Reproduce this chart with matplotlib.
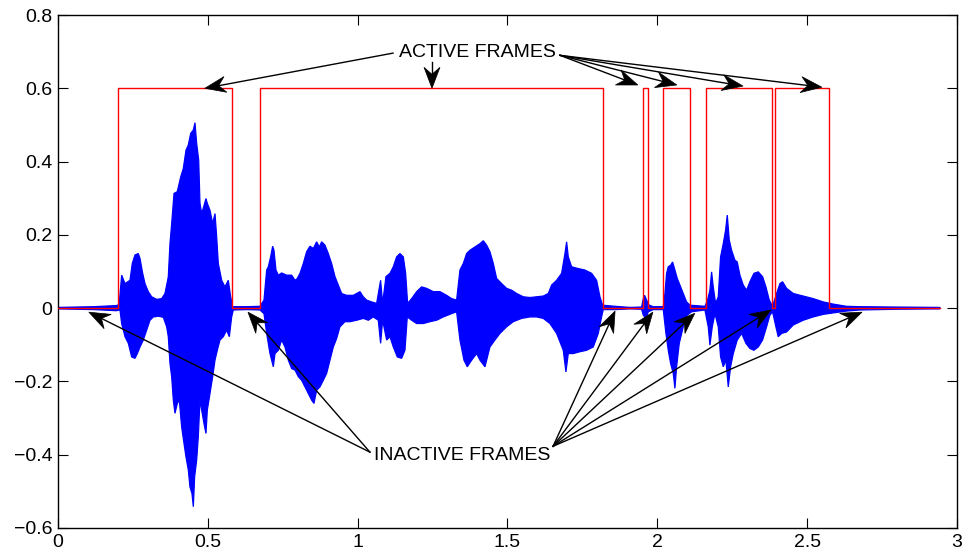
import numpy as np
import matplotlib
matplotlib.use("Agg")
import matplotlib.pyplot as plt
from matplotlib.patches import Polygon

plt.rcParams['font.family'] = ['Liberation Sans', 'DejaVu Sans']

# Speech waveform: upper envelope (time in s, amplitude)
wave_top_t = [
    0.000, 0.120, 0.195, 0.204,
    0.2125, 0.2236, 0.2402, 0.2479, 0.2569, 0.2679, 0.2736, 0.2826, 0.2903, 0.3013,
    0.3126, 0.3293, 0.3460, 0.3570, 0.3680, 0.3737, 0.3794, 0.3871, 0.3981, 0.4094,
    0.4181, 0.4271, 0.4348, 0.4428, 0.4515, 0.4571, 0.4628, 0.4695, 0.4738, 0.4795,
    0.4938, 0.4982, 0.5072, 0.5162, 0.5239, 0.5295, 0.5349, 0.5462, 0.5572, 0.5682,
    0.5762, 0.5829, 0.630, 0.674,
    0.6874, 0.6963, 0.7018, 0.7096, 0.7163, 0.7207, 0.7274, 0.7352, 0.7463, 0.7630,
    0.7797, 0.7908, 0.7986, 0.8075, 0.8186, 0.8297, 0.8408, 0.8520, 0.8631, 0.8720,
    0.8798, 0.8909, 0.9020, 0.9131, 0.9243, 0.9354, 0.9465, 0.9632, 0.9854, 1.0077,
    1.0188, 1.0299, 1.0466, 1.0633, 1.0766, 1.0833, 1.0944, 1.1078, 1.1189, 1.1300,
    1.1411, 1.1523, 1.1601, 1.1667, 1.1801, 1.1968, 1.2134, 1.2301, 1.2524, 1.2746,
    1.2969, 1.3135, 1.3302, 1.3413, 1.3525, 1.3636, 1.3747, 1.3914,
    1.4081, 1.4192, 1.4303, 1.4414, 1.4526, 1.4637, 1.4804, 1.4971, 1.5137, 1.5304,
    1.5527, 1.5749, 1.5972, 1.6194, 1.6361, 1.6472, 1.6639, 1.6806, 1.6917, 1.6973,
    1.7028, 1.7139, 1.7362, 1.7584, 1.7807, 1.7974, 1.8085, 1.8174, 1.860,
    1.9086, 1.9475, 1.9531, 1.9575, 1.9642, 1.9731, 1.9864, 2.0198, 2.0254, 2.0309,
    2.0365, 2.0443, 2.0509, 2.0587, 2.0665, 2.0754, 2.0865, 2.0977, 2.1088, 2.1588,
    2.1677, 2.1755, 2.1811, 2.1866, 2.1944, 2.2033, 2.2111, 2.2200, 2.2278, 2.2334,
    2.2400, 2.2478, 2.2589, 2.2667, 2.2756, 2.2867, 2.2978, 2.3089, 2.3223, 2.3368,
    2.3512, 2.3624, 2.3735, 2.3846, 2.3980, 2.4091, 2.4180, 2.4313, 2.4536, 2.4870,
    2.5203, 2.5537, 2.5871, 2.6316, 2.6761, 2.800, 2.943]
wave_top = [
    0.002, 0.004, 0.007, 0.010,
    0.090, 0.067, 0.076, 0.122, 0.145, 0.149, 0.136, 0.095, 0.067, 0.045,
    0.031, 0.024, 0.026, 0.040, 0.085, 0.177, 0.231, 0.313, 0.318, 0.358,
    0.381, 0.431, 0.445, 0.477, 0.486, 0.506, 0.449, 0.404, 0.286, 0.258,
    0.299, 0.286, 0.267, 0.231, 0.258, 0.195, 0.122, 0.076, 0.058, 0.076,
    0.031, 0.004, 0.004, 0.005,
    0.022, 0.104, 0.113, 0.140, 0.169, 0.158, 0.104, 0.090, 0.096, 0.090,
    0.090, 0.076, 0.081, 0.095, 0.122, 0.154, 0.169, 0.163, 0.181, 0.167,
    0.181, 0.172, 0.149, 0.122, 0.086, 0.063, 0.040, 0.035, 0.035, 0.045,
    0.031, 0.022, 0.017, 0.013, 0.076, 0.013, 0.086, 0.095, 0.113, 0.140,
    0.149, 0.140, 0.095, 0.013, 0.026, 0.045, 0.058, 0.054, 0.045, 0.045,
    0.035, 0.026, 0.022, 0.104, 0.122, 0.149, 0.158, 0.167,
    0.176, 0.184, 0.172, 0.154, 0.122, 0.081, 0.067, 0.054, 0.049, 0.040,
    0.031, 0.029, 0.031, 0.033, 0.040, 0.063, 0.076, 0.095, 0.149, 0.181,
    0.140, 0.113, 0.108, 0.104, 0.095, 0.076, 0.031, 0.008, 0.005,
    0.002, 0.003, 0.026, 0.035, 0.022, 0.008, 0.004, 0.004, 0.040, 0.095,
    0.113, 0.117, 0.126, 0.104, 0.081, 0.063, 0.040, 0.017, 0.008, 0.005,
    0.022, 0.049, 0.099, 0.058, 0.013, 0.031, 0.140, 0.176, 0.213, 0.254,
    0.186, 0.158, 0.131, 0.126, 0.090, 0.063, 0.049, 0.072, 0.095, 0.099,
    0.086, 0.058, 0.022, 0.005, 0.040, 0.067, 0.072, 0.054, 0.040, 0.033,
    0.026, 0.017, 0.011, 0.005, 0.004, 0.003, 0.002]

# Speech waveform: lower envelope
wave_bot_t = [
    0.000, 0.120, 0.195, 0.2069,
    0.2124, 0.2236, 0.2347, 0.2458, 0.2569, 0.2647, 0.2736, 0.2847, 0.2959, 0.3070,
    0.3181, 0.3348, 0.3515, 0.3626, 0.3681, 0.3737, 0.3793, 0.3848, 0.3904, 0.3982,
    0.4048, 0.4126, 0.4204, 0.4271, 0.4349, 0.4404, 0.4471, 0.4516, 0.4560, 0.4627,
    0.4682, 0.4738, 0.4794, 0.4872, 0.4938, 0.4983, 0.5072, 0.5161, 0.5239, 0.5316,
    0.5405, 0.5517, 0.5628, 0.5717, 0.5795, 0.5850, 0.630, 0.674,
    0.6874, 0.6963, 0.7074, 0.7185, 0.7241, 0.7352, 0.7463, 0.7574, 0.7686, 0.7797,
    0.7908, 0.8019, 0.8130, 0.8242, 0.8353, 0.8464, 0.8542, 0.8631, 0.8742, 0.8853,
    0.8965, 0.9076, 0.9187, 0.9298, 0.9409, 0.9576, 0.9743, 0.9966, 1.0188, 1.0355,
    1.0522, 1.0688, 1.0766, 1.0833, 1.0967, 1.1078, 1.1189, 1.1322, 1.1467, 1.1578,
    1.1656, 1.1801, 1.1968, 1.2190, 1.2413, 1.2635, 1.2857, 1.3135, 1.3302, 1.3413,
    1.3547, 1.3658, 1.3803, 1.3970,
    1.4081, 1.4248, 1.4414, 1.4581, 1.4748, 1.4971, 1.5193, 1.5471, 1.5749, 1.5972,
    1.6194, 1.6416, 1.6639, 1.6861, 1.6950, 1.7028, 1.7195, 1.7417, 1.7640, 1.7862,
    1.8029, 1.8140, 1.8195, 1.860,
    1.9086, 1.9475, 1.9531, 1.9620, 1.9698, 1.9864, 2.0198, 2.0287, 2.0365, 2.0443,
    2.0531, 2.0587, 2.0643, 2.0732, 2.0865, 2.0999, 2.1143, 2.1588, 2.1699, 2.1755,
    2.1833, 2.1922, 2.2033, 2.2111, 2.2200, 2.2289, 2.2367, 2.2445, 2.2534, 2.2667,
    2.2812, 2.2956, 2.3089, 2.3223, 2.3368, 2.3512, 2.3646, 2.3757, 2.3846, 2.3957,
    2.4035, 2.4146, 2.4313, 2.4536, 2.4870, 2.5203, 2.5537, 2.5871, 2.6316, 2.6761,
    2.800, 2.943]
wave_bot = [
    -0.002, -0.004, -0.007, -0.005,
    -0.042, -0.078, -0.096, -0.133, -0.137, -0.124, -0.106, -0.087, -0.060, -0.033,
    -0.024, -0.022, -0.025, -0.051, -0.078, -0.151, -0.187, -0.251, -0.287, -0.260,
    -0.251, -0.324, -0.369, -0.406, -0.442, -0.488, -0.506, -0.542, -0.460, -0.415,
    -0.351, -0.251, -0.278, -0.315, -0.342, -0.278, -0.233, -0.187, -0.142, -0.115,
    -0.087, -0.078, -0.060, -0.078, -0.024, -0.005, -0.004, -0.005,
    -0.015, -0.069, -0.124, -0.160, -0.124, -0.115, -0.087, -0.106, -0.142, -0.165,
    -0.169, -0.187, -0.197, -0.215, -0.233, -0.251, -0.260, -0.224, -0.215, -0.197,
    -0.178, -0.142, -0.106, -0.083, -0.051, -0.037, -0.037, -0.033, -0.028, -0.033,
    -0.024, -0.033, -0.096, -0.033, -0.087, -0.078, -0.106, -0.133, -0.137, -0.115,
    -0.024, -0.033, -0.042, -0.042, -0.037, -0.033, -0.024, -0.015, -0.010, -0.087,
    -0.142, -0.160, -0.142, -0.124,
    -0.142, -0.160, -0.106, -0.087, -0.069, -0.051, -0.037, -0.028, -0.024, -0.024,
    -0.028, -0.042, -0.069, -0.115, -0.174, -0.124, -0.124, -0.119, -0.115, -0.106,
    -0.069, -0.024, -0.004, -0.004,
    -0.002, -0.003, -0.019, -0.028, -0.010, -0.004, -0.004, -0.069, -0.115, -0.151,
    -0.178, -0.219, -0.160, -0.096, -0.051, -0.019, -0.010, -0.005, -0.051, -0.101,
    -0.051, -0.015, -0.051, -0.133, -0.160, -0.142, -0.215, -0.160, -0.124, -0.087,
    -0.069, -0.096, -0.110, -0.115, -0.106, -0.087, -0.051, -0.019, -0.010, -0.051,
    -0.078, -0.069, -0.065, -0.046, -0.033, -0.024, -0.017, -0.013, -0.008, -0.005,
    -0.003, -0.002]

# Voice activity decision: segment edges (s) and levels
vad_t = [0.000, 0.201, 0.582, 0.674, 1.819, 1.951, 1.970, 2.020, 2.109, 2.161, 2.382,
         2.393, 2.574, 2.943]
vad_level = [0.0, 0.6, 0.0, 0.6, 0.0, 0.6, 0.0, 0.6, 0.0, 0.6, 0.0, 0.6, 0.0, 0.0]

active_label = "ACTIVE FRAMES"
active_pos = (1.399, 0.697)
active_tails = [(1.118, 0.696), (1.248, 0.672), (1.675, 0.690), (1.675, 0.690),
                (1.675, 0.690), (1.675, 0.690)]
active_tips = [(0.490, 0.600), (1.248, 0.600), (1.935, 0.609), (2.065, 0.609),
               (2.286, 0.606), (2.549, 0.603)]

inactive_label = "INACTIVE FRAMES"
inactive_pos = (1.350, -0.401)
inactive_tails = [(1.041, -0.393), (1.041, -0.393), (1.652, -0.377), (1.652, -0.377),
                  (1.652, -0.377), (1.652, -0.377), (1.652, -0.377)]
inactive_tips = [(0.103, -0.011), (0.634, -0.011), (1.859, -0.008), (1.985, -0.011),
                 (2.125, -0.014), (2.379, -0.005), (2.683, -0.011)]

xticks = [0, 0.5, 1, 1.5, 2, 2.5, 3]
xticklabels = ["0", "0.5", "1", "1.5", "2", "2.5", "3"]
yticks = [-0.6, -0.4, -0.2, 0, 0.2, 0.4, 0.6, 0.8]
yticklabels = ["\u22120.6", "\u22120.4", "\u22120.2", "0", "0.2", "0.4", "0.6", "0.8"]

fig = plt.figure(figsize=(9.73, 5.58), dpi=100)
ax = fig.add_axes([58 / 973, 1 - 528 / 558, (957 - 58) / 973, (528 - 15) / 558])

poly_x = list(wave_top_t) + list(wave_bot_t[::-1])
poly_y = list(wave_top) + list(wave_bot[::-1])
ax.fill(poly_x, poly_y, facecolor="#0000ff", edgecolor="#0000ff", lw=0.9, zorder=2)

ax.step(vad_t, vad_level, where="post", color="#ff0000", lw=1.0, zorder=3)

ax.set_xlim(0, 3)
ax.set_ylim(-0.6, 0.8)
ax.set_xticks(xticks)
ax.set_xticklabels(xticklabels)
ax.set_yticks(yticks)
ax.set_yticklabels(yticklabels)
ax.tick_params(direction="in", length=7, width=0.8, top=True, right=True,
               labelsize=14, pad=4)
for s in ax.spines.values():
    s.set_linewidth(1.0)


def draw_arrow(tail, tip, head_len=21.0, head_w=8.0, notch=14.0):
    to_px = ax.transData
    to_data = ax.transData.inverted()
    p0 = np.array(to_px.transform(tail))
    p1 = np.array(to_px.transform(tip))
    d = p1 - p0
    d = d / np.hypot(*d)
    n = np.array([-d[1], d[0]])
    back = p1 - d * head_len
    left = back + n * head_w
    right = back - n * head_w
    mid = p1 - d * notch
    pts = to_data.transform(np.array([p1, left, mid, right]))
    base = to_data.transform(mid)
    ax.plot([tail[0], base[0]], [tail[1], base[1]], color="black", lw=1.0,
            zorder=4, clip_on=False)
    ax.add_patch(Polygon(pts, closed=True, facecolor="black", edgecolor="black",
                         lw=0.5, zorder=5, clip_on=False))


for t, h in zip(active_tails, active_tips):
    draw_arrow(t, h)
for t, h in zip(inactive_tails, inactive_tips):
    draw_arrow(t, h)

ax.text(active_pos[0], active_pos[1], active_label, ha="center", va="center",
        fontsize=14, zorder=6)
ax.text(inactive_pos[0], inactive_pos[1], inactive_label, ha="center", va="center",
        fontsize=14, zorder=6)

fig.savefig("out.png", dpi=100)
